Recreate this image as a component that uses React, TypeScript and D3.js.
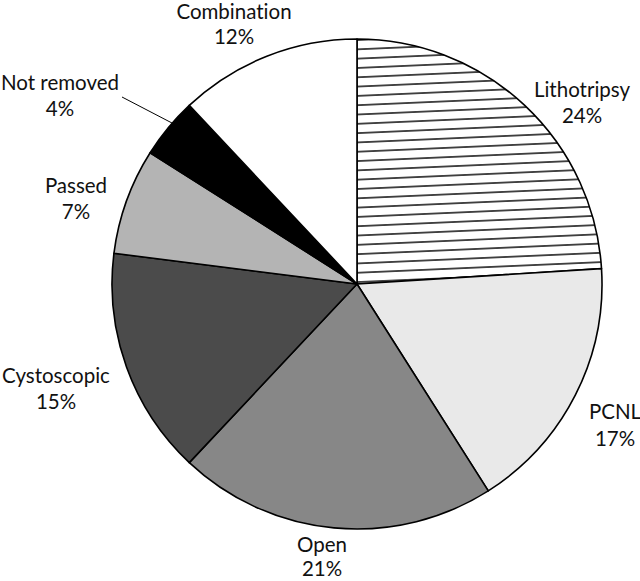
import React from "react";
import * as d3 from "d3";

const categories = ["Lithotripsy", "PCNL", "Open", "Cystoscopic", "Passed", "Not removed", "Combination"];
const values = [24, 17, 21, 15, 7, 4, 12];
const fills = ["url(#hatch)", "#e9e9e9", "#878787", "#4b4b4b", "#b4b4b4", "#000000", "#ffffff"];

// layout constants (label anchor: centre x, first baseline y, line gap)
const labelLayout: [number, number, number][] = [
  [582, 97, 26],
  [615, 419, 27],
  [322, 552, 24],
  [56, 383, 26],
  [76, 193, 26],
  [60, 90, 26],
  [234, 19, 25],
];

const W = 640;
const H = 581;
const CX = 357;
const CY = 284;
const R = 245;

export default function App() {
  const pie = d3
    .pie<number>()
    .sort(null)
    .startAngle(0)
    .endAngle(2 * Math.PI)
    .value((d) => d);
  const arcs = pie(values);
  const arc = d3.arc<d3.PieArcDatum<number>>().innerRadius(0).outerRadius(R);

  // leader for "Not removed"
  const nr = arcs[5];
  const nrAngle = nr.startAngle + (nr.endAngle - nr.startAngle) * 0.6;
  const leaderEnd: [number, number] = [CX + R * Math.sin(nrAngle), CY - R * Math.cos(nrAngle)];

  return (
    <svg
      width={W}
      height={H}
      viewBox={`0 0 ${W} ${H}`}
      style={{ position: "absolute", left: 0, top: 0, display: "block", background: "#fff" }}
    >
      <defs>
        <pattern
          id="hatch"
          patternUnits="userSpaceOnUse"
          width={40}
          height={9.3}
          patternTransform={`translate(0, ${CY - 2}) rotate(-2.5)`}
        >
          <rect width={40} height={9.3} fill="#fff" />
          <line x1={0} x2={40} y1={4.65} y2={4.65} stroke="#000" strokeWidth={1.4} />
        </pattern>
      </defs>
      <rect width={W} height={H} fill="#fff" />
      <g transform={`translate(${CX},${CY})`}>
        {arcs.map((a, i) => (
          <path
            key={categories[i]}
            d={arc(a) || ""}
            fill={fills[i]}
            stroke="#000"
            strokeWidth={1.6}
            strokeLinejoin="round"
          />
        ))}
      </g>
      <line
        x1={122}
        y1={97}
        x2={leaderEnd[0]}
        y2={leaderEnd[1]}
        stroke="#000"
        strokeWidth={1}
      />
      {categories.map((c, i) => (
        <text
          key={c}
          x={labelLayout[i][0]}
          y={labelLayout[i][1]}
          textAnchor="middle"
          fontFamily="Lato, 'DejaVu Sans', sans-serif"
          fontSize={20.5}
          fill="#111"
          style={{ fontVariantLigatures: "none" }}
        >
          <tspan x={labelLayout[i][0]} dy={0}>{c}</tspan>
          <tspan x={labelLayout[i][0]} dy={labelLayout[i][2]}>{`${values[i]}%`}</tspan>
        </text>
      ))}
    </svg>
  );
}
